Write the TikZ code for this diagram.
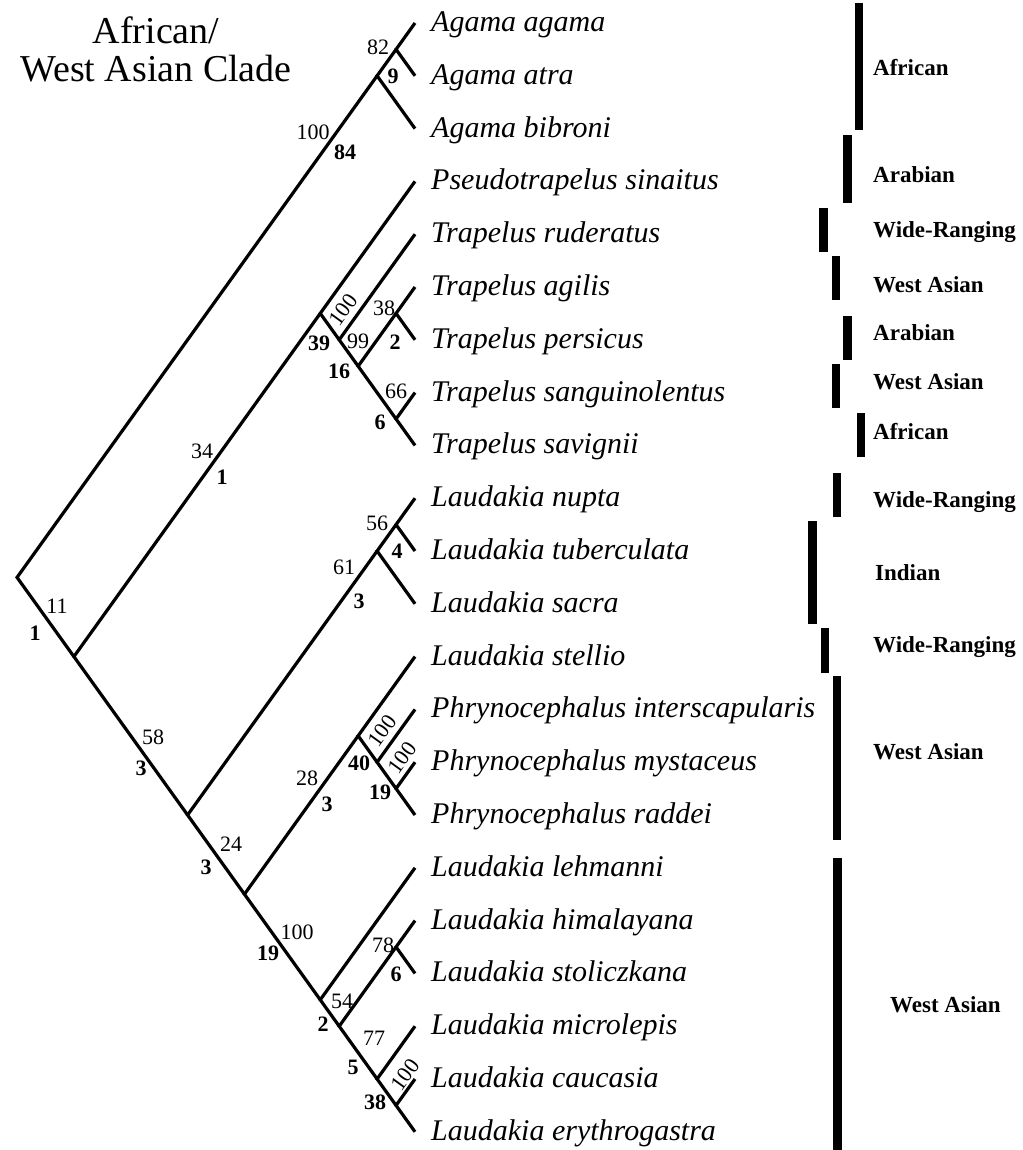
\documentclass[tikz,border=0pt]{standalone}
\usepackage{fontspec}
\setmainfont{Liberation Serif}
\newcommand\cladept[3]{\coordinate (#1) at ({415-18.95*(#3-#2)},{23+26.4*(#2+#3)});}
\begin{document}
\begin{tikzpicture}[x=1pt,y=-1pt,
  branch/.style={line width=3.2pt,line join=miter},
  taxon/.style={anchor=base west,inner sep=0,font=\fontsize{30}{30}\selectfont\itshape},
  boot/.style={inner sep=0,font=\fontsize{22}{22}\selectfont},
  decay/.style={inner sep=0,font=\fontsize{22}{22}\selectfont\bfseries},
  region/.style={anchor=base west,inner sep=0,font=\fontsize{23}{23}\selectfont\bfseries},
  heading/.style={anchor=base,inner sep=0,font=\fontsize{38}{38}\selectfont},
  bar/.style={fill=black}]
\useasboundingbox (0,0) rectangle (1022,1150);

% heading
\node[heading] (head1) at (156,44) {African/};
\node[heading] (head2) at (156,82) {West Asian Clade};

% leaf tips and taxon names
\foreach \name [count=\i from 0] in {Agama agama,Agama atra,Agama bibroni,Pseudotrapelus sinaitus,Trapelus ruderatus,Trapelus agilis,Trapelus persicus,Trapelus sanguinolentus,Trapelus savignii,Laudakia nupta,Laudakia tuberculata,Laudakia sacra,Laudakia stellio,Phrynocephalus interscapularis,Phrynocephalus mystaceus,Phrynocephalus raddei,Laudakia lehmanni,Laudakia himalayana,Laudakia stoliczkana,Laudakia microlepis,Laudakia caucasia,Laudakia erythrogastra}{
  \coordinate (t\i) at (415,{23+52.8*\i});
  \node[taxon] (s\i) at (431,{31.5+52.8*\i}) {\name};
}

% internal nodes (first and last leaf of each clade)
\cladept{AA}{0}{1}
\cladept{A}{0}{2}
\cladept{U1}{5}{6}
\cladept{U2}{7}{8}
\cladept{V}{5}{8}
\cladept{W}{4}{8}
\cladept{Y}{3}{8}
\cladept{NN}{9}{10}
\cladept{N}{9}{11}
\cladept{PP}{14}{15}
\cladept{P}{13}{15}
\cladept{S}{12}{15}
\cladept{HS}{17}{18}
\cladept{CE}{20}{21}
\cladept{Q3}{19}{21}
\cladept{Q2}{17}{21}
\cladept{Q}{16}{21}
\cladept{T}{12}{21}
\cladept{Z}{9}{21}
\cladept{X}{3}{21}
\cladept{R}{0}{21}

% branches
\draw[branch] (A) -- (R) -- (X);
\draw[branch] (AA) -- (A) -- (t2);
\draw[branch] (t0) -- (AA) -- (t1);
\draw[branch] (Y) -- (X) -- (Z);
\draw[branch] (t3) -- (Y) -- (W);
\draw[branch] (t4) -- (W) -- (V);
\draw[branch] (U1) -- (V) -- (U2);
\draw[branch] (t5) -- (U1) -- (t6);
\draw[branch] (t7) -- (U2) -- (t8);
\draw[branch] (N) -- (Z) -- (T);
\draw[branch] (NN) -- (N) -- (t11);
\draw[branch] (t9) -- (NN) -- (t10);
\draw[branch] (S) -- (T) -- (Q);
\draw[branch] (t12) -- (S) -- (P);
\draw[branch] (t13) -- (P) -- (PP);
\draw[branch] (t14) -- (PP) -- (t15);
\draw[branch] (t16) -- (Q) -- (Q2);
\draw[branch] (HS) -- (Q2) -- (Q3);
\draw[branch] (t17) -- (HS) -- (t18);
\draw[branch] (t19) -- (Q3) -- (CE);
\draw[branch] (t20) -- (CE) -- (t21);

% bootstrap values (regular) and decay indices (bold)
\node[boot] (bA) at (313,132) {100};   \node[decay] (dA) at (345,152) {84};
\node[boot] (bAA) at (378,47) {82};    \node[decay] (dAA) at (393,76) {9};
\node[boot] (bX) at (57,606) {11};     \node[decay] (dX) at (35,633) {1};
\node[boot] (bY) at (202,451) {34};    \node[decay] (dY) at (222,477) {1};
\node[boot,rotate=54] (bW) at (343,310) {100}; \node[decay] (dW) at (319,343) {39};
\node[boot] (bV) at (358,341) {99};    \node[decay] (dV) at (339,371) {16};
\node[boot] (bU1) at (384,308) {38};   \node[decay] (dU1) at (395,342) {2};
\node[boot] (bU2) at (396,391) {66};   \node[decay] (dU2) at (380,422) {6};
\node[boot] (bZ) at (153,737) {58};    \node[decay] (dZ) at (141,768) {3};
\node[boot] (bN) at (344,567) {61};    \node[decay] (dN) at (359,601) {3};
\node[boot] (bNN) at (377,523) {56};   \node[decay] (dNN) at (397,551) {4};
\node[boot] (bT) at (231,844) {24};    \node[decay] (dT) at (206,867) {3};
\node[boot] (bS) at (307,778) {28};    \node[decay] (dS) at (327,804) {3};
\node[boot,rotate=54] (bP) at (382,731) {100}; \node[decay] (dP) at (359,763) {40};
\node[boot,rotate=54] (bPP) at (402,758) {100}; \node[decay] (dPP) at (380,792) {19};
\node[boot] (bQ) at (297,932) {100};   \node[decay] (dQ) at (268,953) {19};
\node[boot] (bQ2) at (342,1001) {54};  \node[decay] (dQ2) at (323,1024) {2};
\node[boot] (bHS) at (383,945) {78};   \node[decay] (dHS) at (396,974) {6};
\node[boot] (bQ3) at (374,1038) {77};  \node[decay] (dQ3) at (353,1067) {5};
\node[boot,rotate=54] (bCE) at (405,1075) {100}; \node[decay] (dCE) at (375,1102) {38};

% distribution bars
\fill[bar] (855,3) rectangle (863,130);
\fill[bar] (843,135) rectangle (852,203);
\fill[bar] (819,208) rectangle (828,252);
\fill[bar] (832,256) rectangle (840,300);
\fill[bar] (843,316) rectangle (852,360);
\fill[bar] (832,364) rectangle (840,408);
\fill[bar] (857,413) rectangle (865,457);
\fill[bar] (833,473) rectangle (841,517);
\fill[bar] (808,521) rectangle (817,624);
\fill[bar] (821,628) rectangle (829,673);
\fill[bar] (833,676) rectangle (841,840);
\fill[bar] (833,858) rectangle (842,1150);

% distribution labels
\node[region] (r1) at (873,75.5) {African};
\node[region] (r2) at (873,182.5) {Arabian};
\node[region] (r3) at (873,237.5) {Wide-Ranging};
\node[region] (r4) at (873,292.5) {West Asian};
\node[region] (r5) at (873,340.5) {Arabian};
\node[region] (r6) at (873,389.5) {West Asian};
\node[region] (r7) at (873,439.5) {African};
\node[region] (r8) at (873,507.5) {Wide-Ranging};
\node[region] (r9) at (875,580) {Indian};
\node[region] (r10) at (873,652.5) {Wide-Ranging};
\node[region] (r11) at (873,759.5) {West Asian};
\node[region] (r12) at (890,1012.5) {West Asian};
\end{tikzpicture}
\end{document}
